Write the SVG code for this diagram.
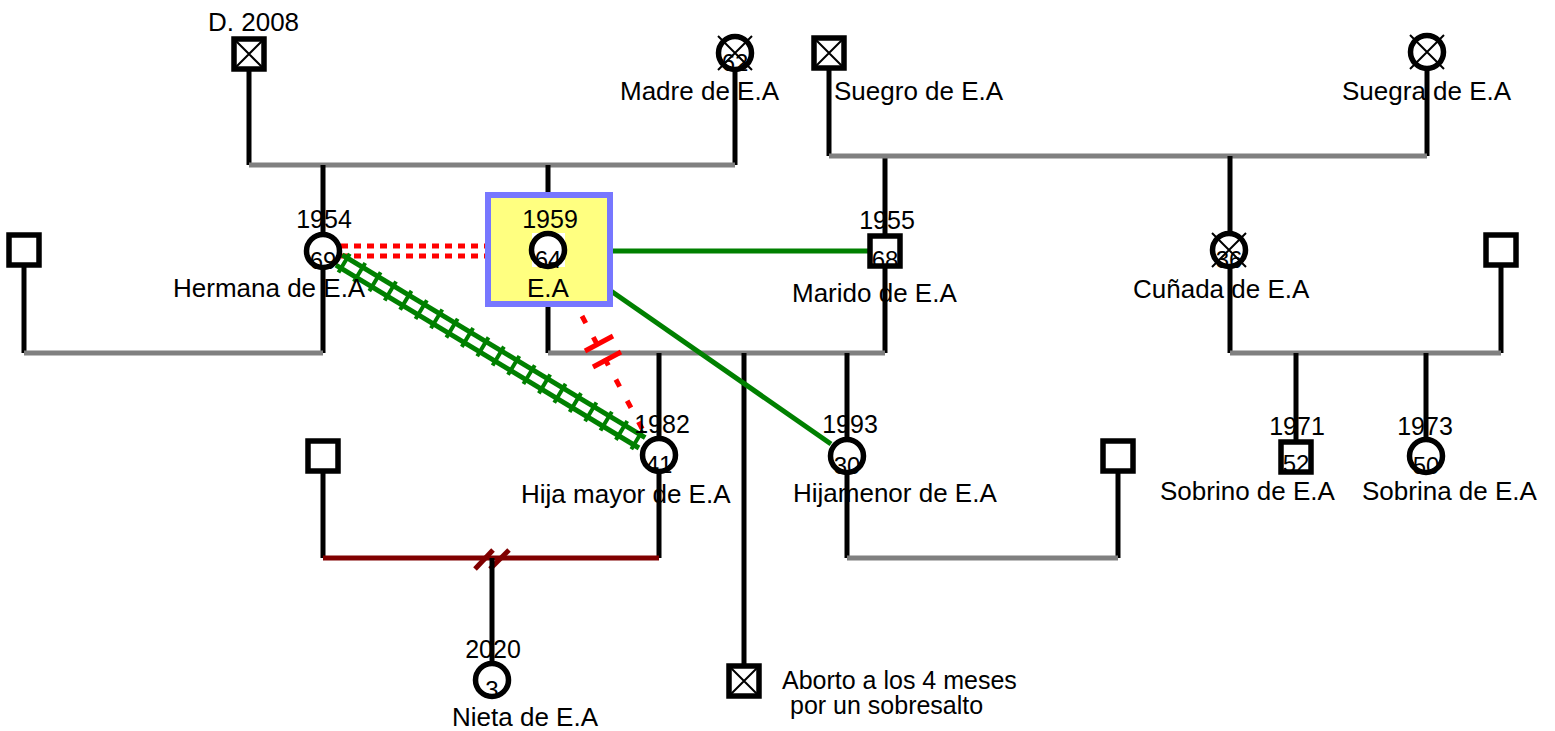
<svg xmlns="http://www.w3.org/2000/svg" width="1555" height="731" viewBox="0 0 1555 731">
<style>
.bg{fill:#ffffff}
.lbl{font-family:"Liberation Sans",Arial,sans-serif;font-size:26px;fill:#000}
.lbl2{font-family:"Liberation Sans",Arial,sans-serif;font-size:25px;fill:#000}
.yr{font-family:"Liberation Sans",Arial,sans-serif;font-size:25px;fill:#000;text-anchor:middle}
.age{font-family:"Liberation Sans",Arial,sans-serif;font-size:24px;fill:#000;text-anchor:middle}
.sym{fill:none;stroke:#000;stroke-width:5.5}
.symf{fill:#fff;stroke:none}
.x{stroke:#000;stroke-width:2;fill:none}
.par{stroke:#808080;stroke-width:5;fill:none}
.blk{stroke:#000;stroke-width:5;fill:none}
.div{stroke:#800000;stroke-width:5;fill:none}
.grn{stroke:#008000;stroke-width:5;fill:none}
.rdot{stroke:#ff0000;stroke-width:5;fill:none;stroke-dasharray:7 6}
.rdot2{stroke:#ff0000;stroke-width:5;fill:none;stroke-dasharray:8 16}
.rtick{stroke:#ff0000;stroke-width:5;fill:none}
</style>
<rect class="bg" x="0" y="0" width="1555" height="731"/>
<g id="connectors">
  <line class="blk" x1="249" y1="70" x2="249" y2="165"/>
  <line class="blk" x1="735" y1="70" x2="735" y2="165"/>
  <line class="par" x1="249" y1="165" x2="735" y2="165"/>
  <line class="blk" x1="323" y1="165" x2="323" y2="353"/>
  <line class="blk" x1="548" y1="165" x2="548" y2="353"/>
  <line class="blk" x1="24" y1="265" x2="24" y2="353"/>
  <line class="par" x1="24" y1="353" x2="323" y2="353"/>
  <line class="blk" x1="885" y1="156" x2="885" y2="353"/>
  <line class="par" x1="548" y1="353" x2="885" y2="353"/>
  <line class="blk" x1="659" y1="353" x2="659" y2="558"/>
  <line class="blk" x1="847" y1="353" x2="847" y2="558"/>
  <line class="blk" x1="744" y1="353" x2="744" y2="664"/>
  <line class="blk" x1="323" y1="471" x2="323" y2="558"/>
  <line class="div" x1="323" y1="558" x2="659" y2="558"/>
  <line class="div" x1="475" y1="569" x2="493" y2="550"/>
  <line class="div" x1="490" y1="569" x2="509" y2="550"/>
  <line class="blk" x1="492" y1="558" x2="492" y2="663"/>
  <line class="blk" x1="1118" y1="471" x2="1118" y2="558"/>
  <line class="par" x1="847" y1="558" x2="1118" y2="558"/>
  <line class="blk" x1="829" y1="70" x2="829" y2="156"/>
  <line class="blk" x1="1427" y1="69" x2="1427" y2="156"/>
  <line class="par" x1="829" y1="156" x2="1427" y2="156"/>
  <line class="blk" x1="1230" y1="156" x2="1230" y2="353"/>
  <line class="blk" x1="1501" y1="265" x2="1501" y2="353"/>
  <line class="par" x1="1230" y1="353" x2="1501" y2="353"/>
  <line class="blk" x1="1296" y1="353" x2="1296" y2="441"/>
  <line class="blk" x1="1426" y1="353" x2="1426" y2="440"/>
  <line class="rdot" x1="341" y1="246" x2="486" y2="246"/>
  <line class="rdot" x1="341" y1="256" x2="486" y2="256"/>
  <line class="grn" x1="611" y1="251" x2="868" y2="251"/>
  <line class="grn" x1="611" y1="291" x2="831" y2="444"/>
  <g transform="translate(339,260) rotate(31.1)">
    <line stroke="#008000" stroke-width="5" x1="0" y1="-6" x2="354" y2="-6"/>
    <line stroke="#008000" stroke-width="5" x1="0" y1="6" x2="354" y2="6"/>
    <line stroke="#008000" stroke-width="22" stroke-dasharray="4 14" x1="4" y1="0" x2="354" y2="0"/>
  </g>
  <line class="rdot2" x1="582" y1="316" x2="646" y2="436"/>
  <line class="rtick" x1="585" y1="351" x2="613" y2="336"/>
  <line class="rtick" x1="593" y1="367" x2="621" y2="352"/>
</g>

<g id="n-padre">
  <rect class="symf" x="234" y="39" width="30" height="30"/>
  <rect class="sym" x="234" y="39" width="30" height="30"/>
  <path class="x" d="M234 39 L264 69 M264 39 L234 69"/>
  <text class="lbl" x="208" y="31">D. 2008</text>
</g>
<g id="n-madre">
  <circle class="symf" cx="735" cy="53" r="16.5"/>
  <text class="age" x="735" y="71">62</text>
  <circle class="sym" cx="735" cy="53" r="16.5"/>
  <path class="x" d="M718 36 L752 70 M752 36 L718 70"/>
  <text class="lbl" x="620" y="100">Madre de E.A</text>
</g>
<g id="n-cunado-h">
  <rect class="symf" x="9" y="235" width="30" height="30"/>
  <rect class="sym" x="9" y="235" width="30" height="30"/>
</g>
<g id="n-hermana">
  <circle class="symf" cx="323" cy="251" r="16.5"/>
  <text class="age" x="323" y="269">69</text>
  <circle class="sym" cx="323" cy="251" r="16.5"/>
  <text class="yr" x="324" y="228">1954</text>
  <text class="lbl" x="173" y="297">Hermana de E.A</text>
</g>
<g id="n-ea">
  <rect x="488" y="195" width="122" height="109" fill="#ffff80" stroke="#7777ff" stroke-width="6"/>
  <rect fill="#fff" x="532" y="233" width="33" height="34"/>
  <text class="age" x="548" y="268">64</text>
  <circle class="sym" cx="548" cy="250" r="16.5"/>
  <text class="yr" x="550" y="228">1959</text>
  <text class="lbl" x="548" y="297" text-anchor="middle">E.A</text>
</g>
<g id="n-marido">
  <rect class="symf" x="870" y="236" width="30" height="30"/>
  <text class="age" x="885" y="268">68</text>
  <rect class="sym" x="870" y="236" width="30" height="30"/>
  <text class="yr" x="887" y="229">1955</text>
  <text class="lbl" x="792" y="302">Marido de E.A</text>
</g>
<g id="n-suegro">
  <rect class="symf" x="814" y="38" width="30" height="30"/>
  <rect class="sym" x="814" y="38" width="30" height="30"/>
  <path class="x" d="M814 38 L844 68 M844 38 L814 68"/>
  <text class="lbl" x="834" y="100">Suegro de E.A</text>
</g>
<g id="n-suegra">
  <circle class="symf" cx="1427" cy="52" r="16.5"/>
  <circle class="sym" cx="1427" cy="52" r="16.5"/>
  <path class="x" d="M1410 35 L1444 69 M1444 35 L1410 69"/>
  <text class="lbl" x="1342" y="100">Suegra de E.A</text>
</g>
<g id="n-cunada">
  <circle class="symf" cx="1229" cy="250" r="16.5"/>
  <text class="age" x="1229" y="268">36</text>
  <circle class="sym" cx="1229" cy="250" r="16.5"/>
  <path class="x" d="M1212 233 L1246 267 M1246 233 L1212 267"/>
  <text class="lbl" x="1133" y="298">Cuñada de E.A</text>
</g>
<g id="n-cunado-m">
  <rect class="symf" x="1486" y="235" width="30" height="30"/>
  <rect class="sym" x="1486" y="235" width="30" height="30"/>
</g>
<g id="n-hija-mayor">
  <circle class="symf" cx="659" cy="455" r="16.5"/>
  <text class="age" x="659" y="473">41</text>
  <circle class="sym" cx="659" cy="455" r="16.5"/>
  <text class="yr" x="662" y="433">1982</text>
  <text class="lbl" x="521" y="503">Hija mayor de E.A</text>
</g>
<g id="n-yerno1">
  <rect class="symf" x="308" y="441" width="30" height="30"/>
  <rect class="sym" x="308" y="441" width="30" height="30"/>
</g>
<g id="n-hija-menor">
  <circle class="symf" cx="847" cy="456" r="16.5"/>
  <text class="age" x="847" y="474">30</text>
  <circle class="sym" cx="847" cy="456" r="16.5"/>
  <text class="yr" x="850" y="433">1993</text>
  <text class="lbl" x="793" y="502">Hijamenor de E.A</text>
</g>
<g id="n-yerno2">
  <rect class="symf" x="1103" y="441" width="30" height="30"/>
  <rect class="sym" x="1103" y="441" width="30" height="30"/>
</g>
<g id="n-aborto">
  <rect class="symf" x="729" y="666" width="30" height="30"/>
  <rect class="sym" x="729" y="666" width="30" height="30"/>
  <path class="x" d="M729 666 L759 696 M759 666 L729 696"/>
  <text class="lbl2" x="782" y="689">Aborto a los 4 meses</text>
  <text class="lbl2" x="790" y="714">por un sobresalto</text>
</g>
<g id="n-nieta">
  <circle class="symf" cx="492" cy="680" r="16.5"/>
  <text class="age" x="492" y="698">3</text>
  <circle class="sym" cx="492" cy="680" r="16.5"/>
  <text class="yr" x="493" y="658">2020</text>
  <text class="lbl" x="452" y="726">Nieta de E.A</text>
</g>
<g id="n-sobrino">
  <rect class="symf" x="1281" y="442" width="30" height="30"/>
  <text class="age" x="1296" y="472">52</text>
  <rect class="sym" x="1281" y="442" width="30" height="30"/>
  <text class="yr" x="1297" y="435">1971</text>
  <text class="lbl" x="1160" y="500">Sobrino de E.A</text>
</g>
<g id="n-sobrina">
  <circle class="symf" cx="1426" cy="456" r="16.5"/>
  <text class="age" x="1426" y="474">50</text>
  <circle class="sym" cx="1426" cy="456" r="16.5"/>
  <text class="yr" x="1425" y="435">1973</text>
  <text class="lbl" x="1362" y="500">Sobrina de E.A</text>
</g>
</svg>
